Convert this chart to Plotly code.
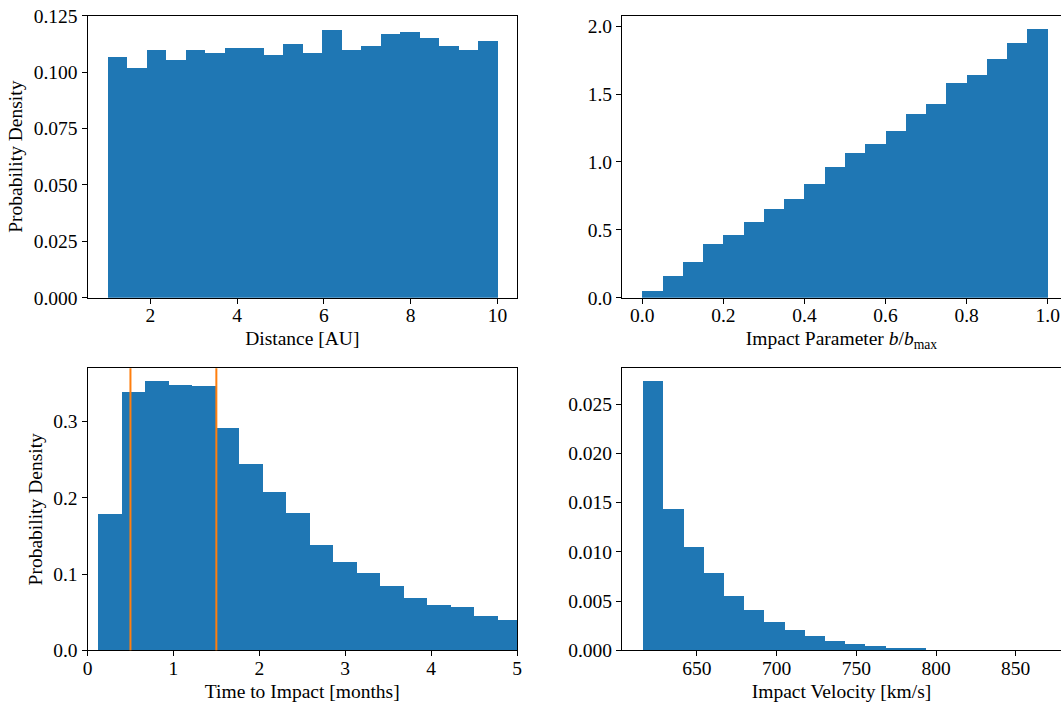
import numpy as np
import plotly.graph_objects as go

# ---- histogram data (normalised densities) ----
# Distance [AU]: 20 bins from 1 to 10
dist_start, dist_width = 1.0, 0.45
dist_density = [0.1067, 0.1022, 0.1098, 0.1058, 0.1102, 0.1085, 0.1111, 0.1107,
                0.1076, 0.1129, 0.1085, 0.1191, 0.1102, 0.1120, 0.1173, 0.1182,
                0.1155, 0.1120, 0.1098, 0.1138]

# Impact parameter b/b_max: 20 bins from 0 to 1
imp_start, imp_width = 0.0, 0.05
imp_density = [0.049, 0.160, 0.263, 0.395, 0.461, 0.557, 0.653, 0.726, 0.837, 0.962,
               1.065, 1.131, 1.227, 1.352, 1.426, 1.580, 1.639, 1.764, 1.875, 1.978]

# Time to impact [months]
time_start, time_width = 0.12, 0.2735
time_density = [0.1788, 0.3376, 0.3520, 0.3467, 0.3454, 0.2912, 0.2444, 0.2077,
                0.1801, 0.1382, 0.1159, 0.1014, 0.0844, 0.0686, 0.0595, 0.0568,
                0.0450, 0.0398]
time_markers = [0.5, 1.5]

# Impact velocity [km/s]: 20 bins
vel_start, vel_width = 616.3, 12.67
vel_density = [0.02727, 0.01436, 0.01050, 0.00786, 0.00552, 0.00410, 0.00288,
               0.00207, 0.00146, 0.00095, 0.00064, 0.00044, 0.00024, 0.00014,
               0.0, 0.0, 0.0, 0.0, 0.0, 0.0]

BLUE = "#1f77b4"
ORANGE = "#ff7f0e"
FONT = "Liberation Serif"
FS = 19.5

W, H = 1061, 705


def centers(start, width, n):
    return start + width * (np.arange(n) + 0.5)


fig = go.Figure()

panels = [
    ("x", "y", dist_start, dist_width, dist_density),
    ("x2", "y2", imp_start, imp_width, imp_density),
    ("x3", "y3", time_start, time_width, time_density),
    ("x4", "y4", vel_start, vel_width, vel_density),
]
for xa, ya, s, w, d in panels:
    fig.add_trace(go.Bar(
        x=centers(s, w, len(d)), y=d, width=w,
        marker=dict(color=BLUE, line=dict(width=0)),
        xaxis=xa, yaxis=ya, showlegend=False, hoverinfo="x+y",
    ))

for xv in time_markers:
    fig.add_shape(type="line", xref="x3", yref="y3 domain",
                  x0=xv, x1=xv, y0=0, y1=1,
                  line=dict(color=ORANGE, width=2))

# panel placement in pixels
left_x = [87.5 / W, 517 / W]
right_x = [622 / W, 1.0]
top_y = [1 - 297.7 / H, 1 - 15.7 / H]
bot_y = [1 - 650.3 / H, 1 - 368.3 / H]

axis_common = dict(
    showgrid=False, zeroline=False, showline=True, linecolor="black", linewidth=1,
    ticks="outside", ticklen=5, tickwidth=1, tickcolor="black", automargin=False,
    tickfont=dict(family=FONT, size=FS, color="black"),
    title_font=dict(family=FONT, size=FS, color="black"),
)
x_common = dict(axis_common, ticklabelstandoff=-5)

fig.update_layout(
    width=W, height=H,
    margin=dict(l=0, r=0, t=0, b=0, autoexpand=False),
    paper_bgcolor="white", plot_bgcolor="white",
    bargap=0, barmode="overlay",
    font=dict(family=FONT, size=FS, color="black"),
    xaxis=dict(x_common, domain=left_x, anchor="y", range=[0.55, 10.45],
               tickvals=[2, 4, 6, 8, 10], mirror=True,
               title=dict(text="Distance [AU]", standoff=6)),
    yaxis=dict(axis_common, domain=top_y, anchor="x", range=[0, 0.1251],
               tickvals=[0, 0.025, 0.05, 0.075, 0.1, 0.125], tickformat=".3f",
               mirror=True,
               title=dict(text="Probability Density", standoff=5)),
    xaxis2=dict(x_common, domain=right_x, anchor="y2", range=[-0.05, 1.0328],
                tickvals=[0, 0.2, 0.4, 0.6, 0.8, 1.0], tickformat=".1f", mirror=True,
                title=dict(text="Impact Parameter <i>b</i>/<i>b</i><sub>max</sub>",
                           standoff=6)),
    yaxis2=dict(axis_common, domain=top_y, anchor="x2", range=[0, 2.077],
                tickvals=[0, 0.5, 1.0, 1.5, 2.0], tickformat=".1f"),
    xaxis3=dict(x_common, domain=left_x, anchor="y3", range=[0, 5],
                tickvals=[0, 1, 2, 3, 4, 5], mirror=True,
                title=dict(text="Time to Impact [months]", standoff=6)),
    yaxis3=dict(axis_common, domain=bot_y, anchor="x3", range=[0, 0.3696],
                tickvals=[0, 0.1, 0.2, 0.3], tickformat=".1f", mirror=True,
                title=dict(text="Probability Density", standoff=5)),
    xaxis4=dict(x_common, domain=right_x, anchor="y4", range=[603, 878.4],
                tickvals=[650, 700, 750, 800, 850], mirror=True,
                title=dict(text="Impact Velocity [km/s]", standoff=6)),
    yaxis4=dict(axis_common, domain=bot_y, anchor="x4", range=[0, 0.02863],
                tickvals=[0, 0.005, 0.01, 0.015, 0.02, 0.025], tickformat=".3f"),
)

fig.write_html("out.html")
